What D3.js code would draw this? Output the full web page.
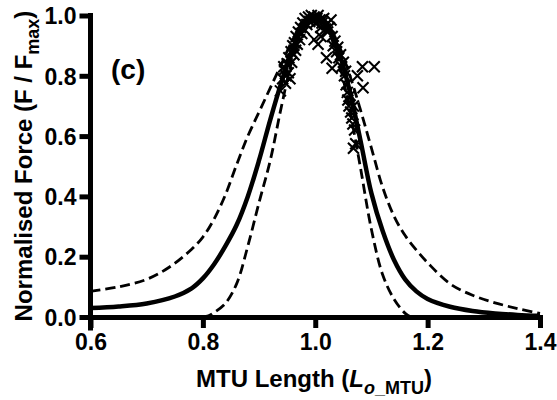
<!DOCTYPE html>
<html>
<head>
<meta charset="utf-8">
<script src="https://cdn.jsdelivr.net/npm/d3@7"></script>
<style>
  html, body { margin: 0; padding: 0; background: #fff; }
  svg { display: block; font-family: "Liberation Sans", Arial, Helvetica, sans-serif; }
</style>
</head>
<body>
<svg id="chart" width="557" height="400"></svg>
<script>
// ---- Data ----
const xTicks = [0.6, 0.8, 1.0, 1.2, 1.4];
const yTicks = [0.0, 0.2, 0.4, 0.6, 0.8, 1.0];

// Solid fitted curve
const solidX = [0.60,0.65,0.70,0.75,0.78,0.80,0.82,0.84,0.86,0.88,0.90,0.92,0.94,0.96,0.98,1.00,1.02,1.04,1.06,1.08,1.10,1.12,1.14,1.16,1.18,1.20,1.24,1.28,1.32,1.36,1.40];
const solidY = [0.030,0.035,0.045,0.068,0.095,0.128,0.175,0.235,0.305,0.400,0.520,0.655,0.780,0.890,0.970,1.000,0.970,0.890,0.760,0.590,0.410,0.285,0.190,0.125,0.085,0.060,0.034,0.020,0.012,0.007,0.004];

// Upper (wide) dashed curve
const upperX = [0.60,0.65,0.70,0.74,0.78,0.80,0.82,0.84,0.86,0.88,0.90,0.92,0.94,0.96,0.98,1.00,1.02,1.04,1.06,1.08,1.10,1.12,1.14,1.16,1.18,1.20,1.24,1.28,1.32,1.36,1.40];
const upperY = [0.085,0.100,0.125,0.165,0.225,0.265,0.325,0.405,0.505,0.600,0.680,0.760,0.840,0.920,0.980,1.000,0.975,0.910,0.810,0.690,0.560,0.430,0.335,0.270,0.222,0.180,0.110,0.072,0.047,0.028,0.012];

// Lower (narrow) dashed curve
const lowerX = [0.80,0.81,0.82,0.84,0.86,0.88,0.90,0.92,0.94,0.96,0.98,1.00,1.02,1.04,1.06,1.08,1.10,1.12,1.14,1.16,1.17];
const lowerY = [0.000,0.004,0.015,0.045,0.110,0.235,0.380,0.520,0.700,0.860,0.965,1.000,0.960,0.860,0.700,0.500,0.290,0.140,0.060,0.012,0.000];

// Measured points (x markers)
const ptsX = [0.938,0.942,0.945,0.947,0.950,0.952,0.953,0.955,0.957,0.958,0.960,0.962,0.963,0.965,0.966,0.968,0.970,0.972,0.974,0.976,0.978,0.980,0.982,0.985,
              0.988,0.990,0.993,0.996,0.998,1.000,1.003,1.005,1.008,1.010,1.012,1.015,1.018,1.020,1.022,1.025,1.028,
              1.030,1.032,1.035,1.038,1.040,1.042,1.045,1.047,1.050,1.052,1.054,1.055,1.057,1.058,1.060,1.062,1.063,1.065,1.067,1.068,1.070,1.072,1.068,
              0.998,1.005,1.010,1.020,1.030,0.948,0.944,
              1.084,1.105,1.085,1.075];
const ptsY = [0.750,0.790,0.820,0.775,0.840,0.810,0.860,0.790,0.880,0.845,0.900,0.870,0.910,0.885,0.930,0.905,0.945,0.920,0.960,0.940,0.975,0.955,0.990,0.970,
              0.995,0.980,1.000,0.985,0.995,0.975,0.990,1.000,0.985,0.960,0.975,0.990,0.955,0.970,0.945,0.960,0.985,
              0.930,0.900,0.915,0.880,0.895,0.860,0.870,0.830,0.845,0.800,0.815,0.770,0.745,0.720,0.700,0.735,0.680,0.660,0.640,0.700,0.620,0.575,0.560,
              0.920,0.905,0.930,0.860,0.825,0.800,0.830,
              0.830,0.830,0.760,0.800];

// ---- Drawing ----
const svg = d3.select("#chart");
const x = d3.scaleLinear().domain([0.6, 1.4]).range([90.5, 540]);
const y = d3.scaleLinear().domain([0, 1]).range([317, 15.5]);

const line = d3.line().x(d => x(d[0])).y(d => y(d[1])).curve(d3.curveCatmullRom.alpha(0.5));

svg.append("path")
  .datum(d3.zip(upperX, upperY))
  .attr("d", line).attr("fill", "none").attr("stroke", "#000")
  .attr("stroke-width", 2.8).attr("stroke-dasharray", "10,5");

svg.append("path")
  .datum(d3.zip(lowerX, lowerY))
  .attr("d", line).attr("fill", "none").attr("stroke", "#000")
  .attr("stroke-width", 2.8).attr("stroke-dasharray", "10,5");

svg.append("path")
  .datum(d3.zip(solidX, solidY))
  .attr("d", line).attr("fill", "none").attr("stroke", "#000")
  .attr("stroke-width", 4.5);

// X markers
const m = 5.5;
svg.append("g").selectAll("path")
  .data(d3.zip(ptsX, ptsY))
  .join("path")
  .attr("d", d => {
    const cx = x(d[0]), cy = y(d[1]);
    return `M${cx-m},${cy-m}L${cx+m},${cy+m}M${cx-m},${cy+m}L${cx+m},${cy-m}`;
  })
  .attr("stroke", "#000").attr("stroke-width", 2.1).attr("fill", "none");

// Axes
const xAxis = svg.append("g").attr("transform", "translate(0,317)")
  .call(d3.axisBottom(x).tickValues(xTicks).tickFormat(d3.format(".1f")).tickSize(11).tickSizeOuter(0).tickPadding(6));
const yAxis = svg.append("g").attr("transform", "translate(90.5,0)")
  .call(d3.axisLeft(y).tickValues(yTicks).tickFormat(d3.format(".1f")).tickSize(11).tickSizeOuter(0).tickPadding(3));

[xAxis, yAxis].forEach(g => {
  g.select(".domain").attr("stroke", "#000").attr("stroke-width", 5).attr("stroke-linecap", "square");
  g.selectAll(".tick line").attr("stroke", "#000").attr("stroke-width", 5);
  g.selectAll(".tick text").attr("fill", "#000").style("font-size", "23px").style("font-weight", "bold")
    .style("font-family", '"Liberation Sans", Arial, sans-serif');
});
// extend y axis down to the x tick length
yAxis.select(".domain").attr("d", `M0,${y(1)}V${317 + 11}`);
yAxis.selectAll(".tick text").attr("dy", "0.36em");

// Panel label
svg.append("text").attr("x", 111).attr("y", 79)
  .style("font-size", "28px").style("font-weight", "bold").text("(c)");

// Axis titles
const xt = svg.append("text").attr("x", 314).attr("y", 387).attr("text-anchor", "middle")
  .style("font-size", "24px").style("font-weight", "bold");
xt.append("tspan").text("MTU Length (");
xt.append("tspan").style("font-style", "italic").text("L");
xt.append("tspan").attr("dy", 7).style("font-size", "18px").style("font-style", "italic").text("o");
xt.append("tspan").style("font-size", "18px").text("_MTU");
xt.append("tspan").attr("dy", -7).text(")");

const yt = svg.append("text").attr("transform", "translate(32,166) rotate(-90)").attr("text-anchor", "middle")
  .style("font-size", "24px").style("font-weight", "bold");
yt.append("tspan").text("Normalised Force (F / F");
yt.append("tspan").attr("dy", 7).style("font-size", "18px").text("max");
yt.append("tspan").attr("dy", -7).text(")");
</script>
</body>
</html>
